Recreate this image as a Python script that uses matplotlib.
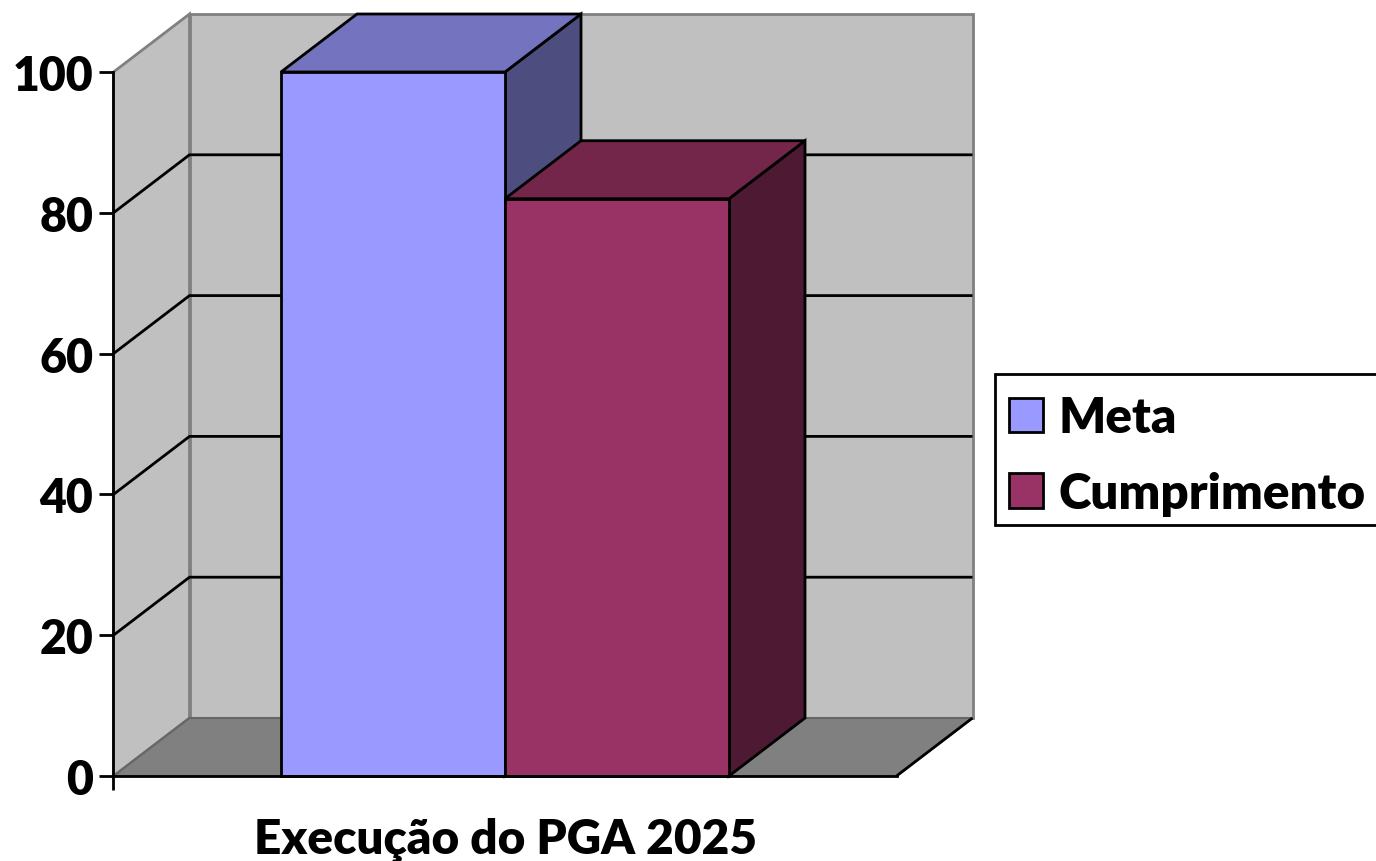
import matplotlib
matplotlib.use("Agg")
import matplotlib.pyplot as plt
from matplotlib.patches import Polygon, Rectangle

categories = ["Execução do PGA 2025"]
series_names = ["Meta", "Cumprimento"]
series_values = [100, 82]
y_ticks = [0, 20, 40, 60, 80, 100]
front_colors = ["#9999FF", "#993366"]
top_colors = ["#7373BF", "#732649"]
side_colors = ["#4D4D80", "#4D1933"]

W, H = 1376, 862
plt.rcParams["font.family"] = ["Lato", "DejaVu Sans"]
HEAVY = 800
plt.rcParams["font.weight"] = HEAVY
fig = plt.figure(figsize=(W / 100, H / 100), dpi=100, facecolor="white")
L, R, B, T = 113.5, 896.5, 777, 73
ax = fig.add_axes([L / W, (H - B) / H, (R - L) / W, (B - T) / H])
ax.set_xlim(0, 1)
ax.set_ylim(0, 100)
ax.set_facecolor("none")
dx = 76 / (R - L)
dy = 58 / (B - T) * 100
wall_c = "#C0C0C0"
floor_c = "#808080"
edge_c = "#808080"
floor_edge = "#666666"

def poly(pts, fc, ec="black", lw=2, z=2):
    ax.add_patch(Polygon(pts, closed=True, fc=fc, ec=ec, lw=lw, zorder=z, clip_on=False, joinstyle="miter"))

def line(xs, ys, color="black", lw=2, z=1.5):
    ax.plot(xs, ys, color=color, lw=lw, zorder=z, clip_on=False, solid_joinstyle="miter", solid_capstyle="butt")

# walls and floor
poly([(0, 0), (dx, dy), (dx, 100 + dy), (0, 100)], wall_c, edge_c, 2, 1)
poly([(dx, dy), (1 + dx, dy), (1 + dx, 100 + dy), (dx, 100 + dy)], wall_c, edge_c, 2, 1)
poly([(0, 0), (dx, dy), (1 + dx, dy), (1, 0)], floor_c, floor_edge, 1.5, 1.2)
line([1, 1 + dx], [0, dy], "black", 2, 2)

# gridlines
for v in y_ticks[1:-1]:
    line([0, dx, 1 + dx], [v, v + dy, v + dy])

# bars
gap = (281 - L) / (R - L)
bw = (505 - 281) / (R - L)
for i, v in enumerate(series_values):
    x0 = gap + i * bw
    x1 = x0 + bw
    poly([(x1, 0), (x1 + dx, dy), (x1 + dx, v + dy), (x1, v)], side_colors[i], z=3 + i)
    poly([(x0, v), (x0 + dx, v + dy), (x1 + dx, v + dy), (x1, v)], top_colors[i], z=3 + i)
    poly([(x0, 0), (x1, 0), (x1, v), (x0, v)], front_colors[i], z=3 + i)

# axes
for s in ["top", "right"]:
    ax.spines[s].set_visible(False)
for s in ["left", "bottom"]:
    ax.spines[s].set_color("black")
    ax.spines[s].set_linewidth(2)
    ax.spines[s].set_zorder(10)
ax.set_yticks(y_ticks)
ax.set_xticks([0])
ax.set_xticklabels([""])
ax.tick_params(axis="y", length=10, width=2, color="black", labelsize=33.5, pad=4.5)
ax.tick_params(axis="x", length=10, width=2, color="black")
ax.text(505 / W, (H - 840) / H, categories[0], transform=fig.transFigure, ha="center", va="center",
        fontsize=34.4, fontweight=HEAVY)

# legend frame, drawn on its own so the entries can sit low inside it as in the reference
fig.add_artist(Rectangle((995 / W, (H - 525.5) / H), 400 / W, 151 / H, transform=fig.transFigure,
                         fc="white", ec="black", lw=2, zorder=5))
handles = [Rectangle((0, 0), 1, 1, fc=c, ec="black", lw=2) for c in front_colors]
leg = fig.legend(handles, series_names, loc="center left", bbox_to_anchor=(994.5 / W, (H - 456.5) / H),
                 frameon=False, fontsize=35.5,
                 handlelength=0.69, handleheight=0.69, handletextpad=0.3, labelspacing=0.62, borderpad=0.3, borderaxespad=0)
leg.set_zorder(6)

fig.savefig("out.png", dpi=100)
